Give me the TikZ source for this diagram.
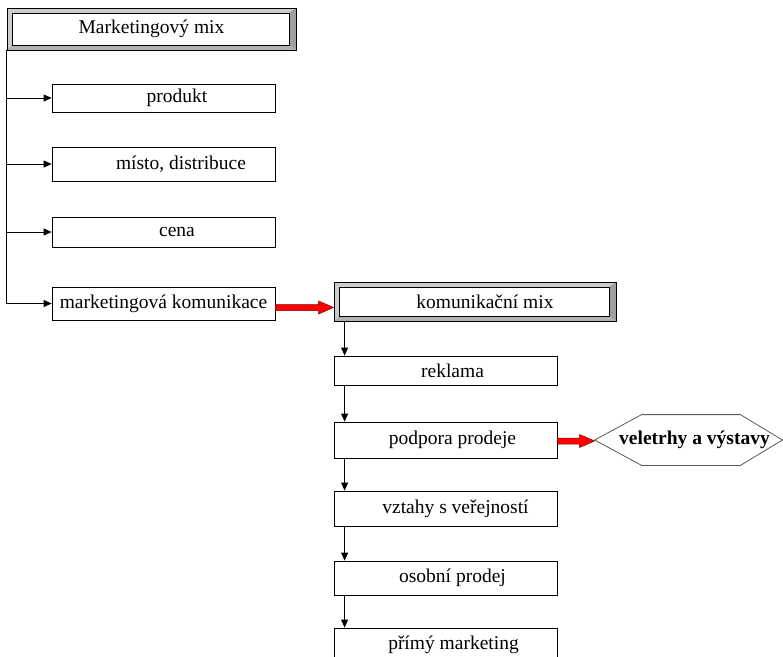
\documentclass[tikz,border=0pt]{standalone}
\usepackage{fontspec}
\setmainfont{Liberation Serif}
\usetikzlibrary{arrows.meta}
\newcommand{\fatarrow}[2]{%
  \draw[red arrow] ([yshift=3pt]#1) -- ([xshift=-15pt,yshift=3pt]#2) -- ([xshift=-15pt,yshift=6.5pt]#2)
    -- (#2) -- ([xshift=-15pt,yshift=-6.5pt]#2) -- ([xshift=-15pt,yshift=-3pt]#2) -- ([yshift=-3pt]#1) -- cycle;}
\begin{document}
\begin{tikzpicture}[x=1pt, y=-1pt, line width=0.8pt, font=\fontsize{19.5}{22}\selectfont,
  box/.style={rectangle,draw,fill=white,minimum width=223pt,inner sep=0pt},
  bevel box/.style={rectangle,draw,fill=gray!40,inner sep=0pt,
    path picture={
      \fill[gray!75] (path picture bounding box.north east) -- (path picture bounding box.south east)
        -- ([xshift=-7pt,yshift=5pt]path picture bounding box.south east) -- ([xshift=-7pt,yshift=-5pt]path picture bounding box.north east) -- cycle;
      \fill[gray!60] (path picture bounding box.south west) -- (path picture bounding box.south east)
        -- ([xshift=-7pt,yshift=5pt]path picture bounding box.south east) -- ([xshift=5pt,yshift=5pt]path picture bounding box.south west) -- cycle;
      \draw[fill=white] ([xshift=5pt,yshift=-5pt]path picture bounding box.north west) rectangle ([xshift=-7pt,yshift=5pt]path picture bounding box.south east);
    }},
  hexa/.style={rectangle,minimum width=187pt,minimum height=50pt,inner sep=0pt,font=\fontsize{19.5}{22}\selectfont\bfseries},
  hexa line/.style={draw=gray!70!black},
  conn/.style={-{Triangle[length=8pt,width=7pt]}},
  red arrow/.style={fill=red,draw=red!50!black,line width=0.5pt}]
\clip (0,0) rectangle (783,656);
% marketingovy mix
\node [bevel box,minimum width=289pt,minimum height=42pt](mm) at (151.5,29) {Marketingový mix};
\node [box,minimum height=28pt](prod) at (163.5,98) {\hspace*{27pt}produkt};
\node [box,minimum height=34pt](misto) at (163.5,164) {\hspace*{35pt}místo, distribuce};
\node [box,minimum height=30pt](cena) at (163.5,232) {\hspace*{27pt}cena};
\node [box,minimum height=33pt](mk) at (163.5,303.5) {marketingová komunikace};
% komunikacni mix
\node [bevel box,minimum width=282pt,minimum height=39pt](kmix) at (475,301.5) {\hspace*{20pt}komunikační mix};
\node [box,minimum height=29pt](rek) at (445.5,370.5) {\hspace*{14pt}reklama};
\node [box,minimum height=36pt](podp) at (445.5,440) {\hspace*{14pt}podpora prodeje};
\node [box,minimum height=35pt](vzt) at (445.5,508.5) {\hspace*{20pt}vztahy s veřejností};
\node [box,minimum height=34pt](osp) at (445.5,578) {\hspace*{14pt}osobní prodej};
\node [box,minimum height=34pt](prim) at (445.5,645) {\hspace*{16pt}přímý marketing};
\node [hexa](vel) at (688.5,440) {\hspace*{12pt}veletrhy a výstavy};
\draw [hexa line] (vel.west) -- ([xshift=47pt]vel.north west) -- ([xshift=-42pt]vel.north east) -- (vel.east)
    -- ([xshift=-42pt]vel.south east) -- ([xshift=47pt]vel.south west) -- cycle;
\draw (mm.south west) -- (mm.south west |- mk.west);
\path [conn]
    (mm.south west |- prod.west) edge (prod.west)
    (mm.south west |- misto.west) edge (misto.west)
    (mm.south west |- cena.west) edge (cena.west)
    (mm.south west |- mk.west) edge (mk.west)
    ([xshift=11pt]kmix.south west) edge ([xshift=11pt]rek.north west)
    ([xshift=11pt]rek.south west) edge ([xshift=11pt]podp.north west)
    ([xshift=11pt]podp.south west) edge ([xshift=11pt]vzt.north west)
    ([xshift=11pt]vzt.south west) edge ([xshift=11pt]osp.north west)
    ([xshift=11pt]osp.south west) edge ([xshift=11pt]prim.north west)
         ;
\coordinate (a1) at ([yshift=-4pt]mk.east);
\coordinate (b1) at (kmix.west |- a1);
\coordinate (a2) at ([yshift=-1pt]podp.east);
\coordinate (b2) at (vel.west |- a2);
\fatarrow{a1}{b1}
\fatarrow{a2}{b2}
\end{tikzpicture}
\end{document}
